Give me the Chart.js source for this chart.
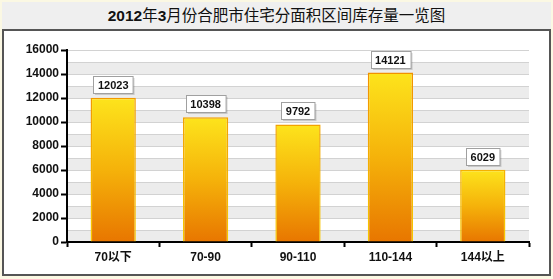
<!DOCTYPE html>
<html><head><meta charset="utf-8">
<script src="https://cdn.jsdelivr.net/npm/chart.js@4/dist/chart.umd.min.js"></script>
<style>
html,body{margin:0;padding:0;}
body{width:553px;height:279px;background:#fbf8e3;position:relative;overflow:hidden;font-family:"Liberation Sans","Noto Sans CJK SC",sans-serif;}
#title{position:absolute;left:2px;top:2px;width:549px;height:27px;background:#efefef;text-align:center;line-height:27px;font-size:15.5px;color:#111;}
#title b{font-weight:bold;}
#box{position:absolute;left:2px;top:29px;width:545px;height:243px;border:2px solid #555;background:#fff;}
canvas{display:block;}
</style></head>
<body>
<div id="title"><b>2012</b>年<b>3</b>月份合肥市住宅分面积区间库存量一览图</div>
<div id="box"><canvas id="c" width="545" height="243"></canvas></div>
<script>
const categories = ["70以下", "70-90", "90-110", "110-144", "144以上"];
const stockValues = [12023, 10398, 9792, 14121, 6029];
const yTicks = [0, 2000, 4000, 6000, 8000, 10000, 12000, 14000, 16000];

const bandPlugin = {
  id: 'bands',
  beforeDraw(chart) {
    const {ctx, chartArea: a, scales: {y}} = chart;
    ctx.save();
    for (let v = 0; v < 16000; v += 2000) {
      const yb = y.getPixelForValue(v), yt = y.getPixelForValue(v + 1000);
      ctx.fillStyle = '#ececec';
      ctx.fillRect(a.left, yt, a.right - a.left, yb - yt);
    }
    ctx.strokeStyle = '#d2d2d2';
    ctx.lineWidth = 1;
    for (let v = 1000; v <= 16000; v += 1000) {
      const py = Math.round(y.getPixelForValue(v)) + 0.5;
      ctx.beginPath(); ctx.moveTo(a.left, py); ctx.lineTo(a.right, py); ctx.stroke();
    }
    ctx.restore();
  }
};

const labelPlugin = {
  id: 'valueLabels',
  afterDatasetsDraw(chart) {
    const ctx = chart.ctx;
    const meta = chart.getDatasetMeta(0);
    ctx.save();
    ctx.font = 'bold 11px "Liberation Sans", sans-serif';
    ctx.textAlign = 'center';
    ctx.textBaseline = 'middle';
    meta.data.forEach((bar, i) => {
      const txt = String(chart.data.datasets[0].data[i]);
      const w = ctx.measureText(txt).width + 9;
      const h = 17;
      const x = Math.round(bar.x - w / 2) + 0.5;
      const yb = Math.round(bar.y - 5) + 0.5;
      ctx.fillStyle = 'rgba(0,0,0,0.15)';
      ctx.fillRect(x + 1.5, yb - h + 1.5, w, h);
      ctx.fillStyle = '#fff';
      ctx.fillRect(x, yb - h, w, h);
      ctx.strokeStyle = '#a0a0a0';
      ctx.lineWidth = 1;
      ctx.strokeRect(x, yb - h, w, h);
      ctx.fillStyle = '#111';
      ctx.fillText(txt, bar.x, yb - h / 2 + 0.5);
    });
    ctx.restore();
  }
};

function barFill(c) {
  const chart = c.chart, a = chart.chartArea, ys = chart.scales.y;
  if (!a || !ys) return '#f5b000';
  let top = ys.getPixelForValue(c.raw);
  if (!isFinite(top)) top = a.top;
  const g = chart.ctx.createLinearGradient(0, top, 0, a.bottom);
  g.addColorStop(0, '#fde41c');
  g.addColorStop(0.5, '#f5b20a');
  g.addColorStop(1, '#e87600');
  return g;
}
function barBorder(c) {
  const chart = c.chart, a = chart.chartArea;
  if (!a) return '#f08a00';
  const g = chart.ctx.createLinearGradient(0, a.top, 0, a.bottom);
  g.addColorStop(0, '#f08a00'); g.addColorStop(1, '#f8c800');
  return g;
}

new Chart(document.getElementById('c'), {
  type: 'bar',
  data: {
    labels: categories,
    datasets: [{
      data: stockValues,
      backgroundColor: barFill,
      borderColor: barBorder,
      borderWidth: 1.5,
      barPercentage: 0.49,
      categoryPercentage: 1.0
    }]
  },
  options: {
    responsive: false,
    animation: false,
    events: [],
    layout: { padding: { top: 19, right: 20, left: 0, bottom: 0 } },
    plugins: { legend: { display: false }, tooltip: { enabled: false }, title: { display: false } },
    scales: {
      x: {
        afterFit(s) { s.height = 32; },
        grid: { offset: true, drawOnChartArea: false, tickLength: 5, tickColor: '#000', tickWidth: 2 },
        border: { color: '#000', width: 2 },
        ticks: { color: '#111', font: { family: '"Liberation Sans","Noto Sans CJK SC",sans-serif', size: 12, weight: 'bold' }, padding: 3 }
      },
      y: {
        min: 0, max: 16000,
        afterFit(s) { s.width = 63; },
        afterBuildTicks(s) { s.ticks = yTicks.map(v => ({ value: v })); },
        grid: { drawOnChartArea: false, tickLength: 6, tickColor: '#000', tickWidth: 2 },
        border: { color: '#000', width: 2 },
        ticks: { color: '#111', font: { family: '"Liberation Sans",sans-serif', size: 12, weight: 'bold' }, padding: 2, callback: (v) => String(v) }
      }
    }
  },
  plugins: [bandPlugin, labelPlugin]
});
</script>
</body></html>
